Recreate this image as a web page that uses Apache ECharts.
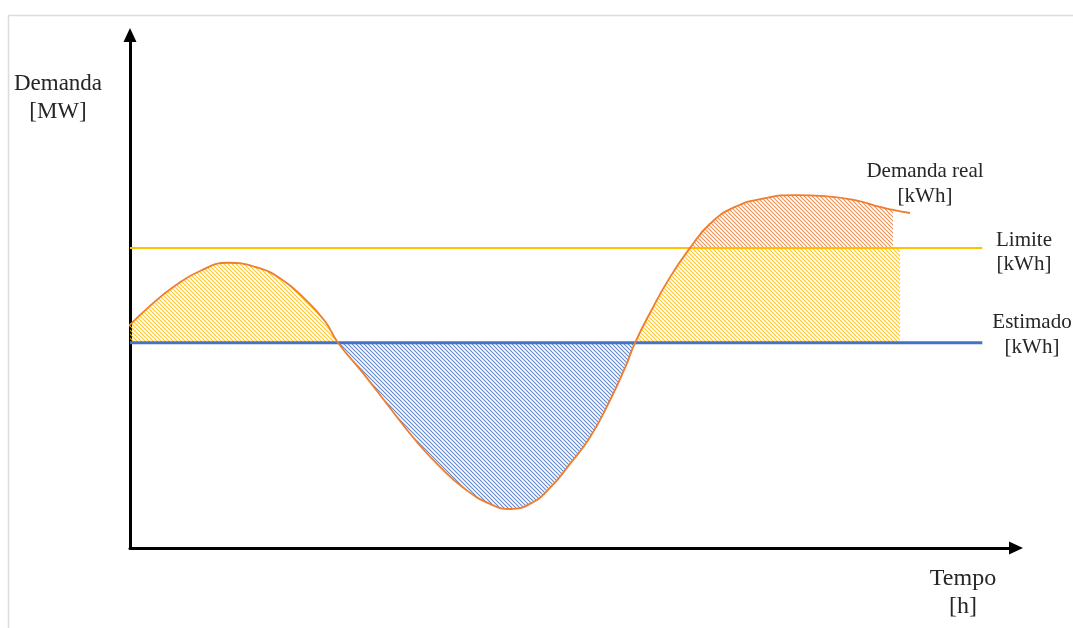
<!DOCTYPE html>
<html>
<head>
<meta charset="utf-8">
<script src="https://cdn.jsdelivr.net/npm/echarts@6/dist/echarts.min.js"></script>
<style>
html, body { margin: 0; padding: 0; background: #fff; }
#chart { width: 1073px; height: 628px; }
</style>
</head>
<body>
<div id="chart"></div>
<script>
// demanda real (curva)
var curveX = [-0.68, 2.26, 5.08, 7.90, 11.06, 14.11, 16.93, 19.75, 22.01, 23.48,
	26.30, 29.35, 32.17, 34.99, 37.81, 40.63, 42.89, 45.15, 47.40, 49.66, 51.92,
	54.18, 55.87, 57.00, 58.69, 60.95, 63.21, 65.46, 68.28, 71.67, 75.06, 78.44,
	81.83, 84.65, 86.12, 88.04]
var curveY = [42.3, 47.2, 51.1, 54.0, 55.6, 54.8, 52.6, 48.5, 44.2, 40,
	34.1, 27.3, 21.1, 15.8, 11.5, 8.6, 7.6, 8.6, 11.7, 16.4, 21.6,
	28.8, 35.1, 40, 45.8, 52.8, 58.5, 63.2, 66.5, 68.2, 68.8, 68.6,
	67.8, 66.5, 65.9, 65.3]

var limite = 58.5
var estimado = 40
var lineEnd = 96.2
var hatchEnd = 86.9

// indices dos cruzamentos na curva
var crossEst1 = 9
var crossEst2 = 23
var crossLim = 26
var lastHatch = 34

var axisNames = ['Demanda\n[MW]', 'Tempo\n[h]']
var lineNames = ['Demanda real\n[kWh]', 'Limite\n[kWh]', 'Estimado\n[kWh]']

function pts(from, to) {
	var out = []
	for (var i = from; i <= to; i++) out.push([curveX[i], curveY[i]])
	return out
}

function hatch(color) {
	var c = document.createElement('canvas')
	c.width = 4
	c.height = 4
	var ctx = c.getContext('2d')
	ctx.strokeStyle = color
	ctx.lineWidth = 1.1
	ctx.beginPath()
	ctx.moveTo(-1, -1); ctx.lineTo(5, 5)
	ctx.moveTo(-1, 3); ctx.lineTo(1, 5)
	ctx.moveTo(3, -1); ctx.lineTo(5, 1)
	ctx.stroke()
	return { image: c, repeat: 'repeat' }
}

function areaSeries(data, origin, color, smooth) {
	return {
		type: 'line',
		data: data,
		smooth: smooth,
		showSymbol: false,
		silent: true,
		lineStyle: { width: 0, opacity: 0 },
		areaStyle: { origin: origin, color: hatch(color), opacity: 0.85 },
		z: 1,
	}
}

var region3 = pts(crossEst2, crossLim)
region3.push([hatchEnd, limite])

var chart = echarts.init(document.getElementById('chart'))

function label(text, x, y, size, lh) {
	return {
		type: 'text',
		x: x,
		y: y,
		silent: true,
		style: {
			text: text,
			fontFamily: 'Liberation Serif',
			fontSize: size,
			lineHeight: lh,
			fill: '#262626',
			align: 'center',
			verticalAlign: 'middle',
		},
	}
}

var option = {
	animation: false,
	grid: { left: 130, right: 57, top: 35, bottom: 80 },
	xAxis: {
		type: 'value',
		min: 0,
		max: 100,
		axisLine: {
			lineStyle: { color: '#000', width: 3 },
			symbol: ['none', 'triangle'],
			symbolSize: [13, 14],
		},
		axisTick: { show: false },
		axisLabel: { show: false },
		splitLine: { show: false },
	},
	yAxis: {
		type: 'value',
		min: 0,
		max: 100,
		axisLine: {
			show: true,
			lineStyle: { color: '#000', width: 3 },
			symbol: ['none', 'triangle'],
			symbolSize: [13, 14],
		},
		axisTick: { show: false },
		axisLabel: { show: false },
		splitLine: { show: false },
	},
	series: [
		areaSeries(pts(0, crossEst1), estimado, '#FFC000', 0.5),
		areaSeries(pts(crossEst1, crossEst2), estimado, '#4472C4', 0.5),
		areaSeries(region3, estimado, '#FFC000', false),
		areaSeries(pts(crossLim, lastHatch), limite, '#ED7D31', 0.5),
		{
			type: 'line',
			data: [[0, limite], [lineEnd, limite]],
			showSymbol: false,
			lineStyle: { color: '#FFC000', width: 2 },
			z: 3,
		},
		{
			type: 'line',
			data: [[0, estimado], [lineEnd, estimado]],
			showSymbol: false,
			lineStyle: { color: '#4472C4', width: 3 },
			z: 3,
		},
		{
			type: 'line',
			data: pts(0, curveX.length - 1),
			smooth: 0.5,
			showSymbol: false,
			clip: false,
			lineStyle: { color: '#ED7D31', width: 1.8 },
			z: 4,
		},
	],
	graphic: [
		{
			type: 'polyline',
			shape: { points: [[8.5, 640], [8.5, 15.5], [1080, 15.5]] },
			style: { stroke: '#dcdcdc', lineWidth: 1.5, fill: null },
			silent: true,
		},
		label(axisNames[0], 58, 98, 23, 28),
		label(axisNames[1], 963, 593, 24, 28),
		label(lineNames[0], 925, 184, 21, 25),
		label(lineNames[1], 1024, 252, 21, 24),
		label(lineNames[2], 1032, 335, 21, 25),
	],
}

option && chart.setOption(option)
</script>
</body>
</html>
